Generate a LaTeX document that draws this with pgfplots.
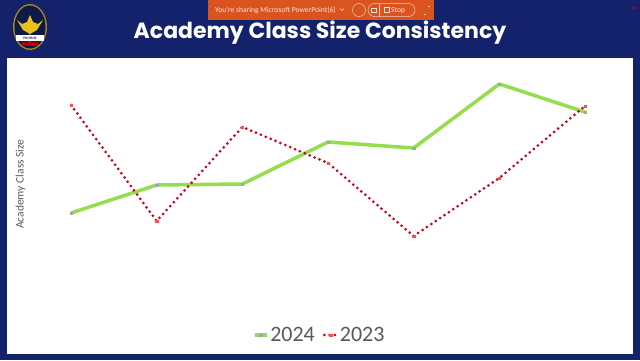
\documentclass[border=0pt]{standalone}
\usepackage{pgfplots}
\pgfplotsset{compat=1.18}
\usepackage{fontspec}
\setmainfont{Carlito}
\newfontfamily\poppins{Poppins}
\definecolor{navy}{HTML}{13226B}
\definecolor{orangebar}{HTML}{D9541E}
\definecolor{lgreen}{HTML}{95DD4C}
\definecolor{dred}{HTML}{C8001E}
\definecolor{txtgray}{HTML}{595959}
\definecolor{gold}{HTML}{E8C21A}
\begin{document}
\begin{tikzpicture}[x=1pt,y=1pt]
\fill[navy] (0,0) rectangle (640,360);
\fill[white] (7,6) rectangle (633,302);
% sharing bar
\fill[orangebar] (208,340) rectangle (434,360);
\node[anchor=west, text=white!85!orangebar, font=\fontsize{7.6}{8}\selectfont, inner sep=0] at (215,350) {You're sharing Microsoft PowerPoint(6)};
\draw[white!80!orangebar, line width=0.6] (340,351.5) -- (342,349.5) -- (344,351.5);
\draw[white!70!orangebar, line width=0.5] (359,350) circle (6.5);
\draw[white!70!orangebar, line width=0.5, rounded corners=6.5] (368,343.5) rectangle (415,356.5);
\draw[white!70!orangebar, line width=0.5] (379,343.5) -- (379,356.5);
\draw[white!85!orangebar, line width=0.5] (371,348) rectangle (376,352);
\draw[white!85!orangebar, line width=0.5] (384,347.5) rectangle (389,352.5);
\node[anchor=west, text=white!85!orangebar, font=\fontsize{7.6}{8}\selectfont, inner sep=0] at (391,349.5) {Stop};
\draw[white!70!orangebar, line width=0.5] (424,346) -- (426,346) (428,354) -- (430,354);
\fill[red!80!black] (634,352) circle (1.5);
% logo
\fill[gold!70!black] (30,333) ellipse (17 and 23);
\fill[navy!70!black] (30,333) ellipse (15.5 and 21.5);
\fill[gold] (17,340) -- (23,330) -- (30,326) -- (37,330) -- (43,340) -- (38,336) -- (33,338) -- (30,345) -- (27,338) -- (22,336) -- cycle;
\fill[gold] (30,322) circle (3.5);
\fill[white] (16,325) rectangle (44,319);
\node[font=\fontsize{3.5}{4}\selectfont\bfseries, text=navy, inner sep=0] at (30,322) {PHOENIX};
\fill[red!70!black] (22,318) rectangle (38,314);
% title
\node[anchor=base, text=white, font=\poppins\bfseries\fontsize{22}{26}\selectfont] at (320,322) {Academy Class Size Consistency};
\begin{axis}[
  at={(28.17pt,60pt)}, anchor=south west,
  width=599.67pt, height=230pt, scale only axis,
  xmin=-0.5, xmax=6.5, ymin=0, ymax=230,
  axis lines=none, clip=false,
  legend columns=2,
  legend style={at={(0.486,-0.152)}, anchor=center, draw=none, fill=none,
    font=\fontsize{22}{24}\selectfont, text=txtgray,
    /tikz/every even column/.append style={column sep=6pt}},
  legend image code/.code={\draw[#1, mark repeat=2, mark phase=2] plot coordinates {(0pt,0pt) (6pt,0pt) (12pt,0pt)};},
]
\addplot[lgreen, line width=3.5pt, line join=round, mark=square*, mark size=1.3pt,
  mark options={fill=blue!25!gray!60, draw=blue!25!gray!60, line width=0.3pt}]
  coordinates {(0,87) (1,115) (2,116) (3,158) (4,152) (5,216) (6,188)};
\addlegendentry{2024}
\addplot[dred, line width=3pt, line cap=round, dash pattern=on 0pt off 5.3pt, mark=square*, mark size=1.3pt,
  mark options={fill=red!60!pink, draw=red!60!pink, line width=0.3pt, solid}]
  coordinates {(0,195) (1,79) (2,173) (3,137) (4,64) (5,122) (6,194)};
\addlegendentry{2023}
\node[rotate=90, text=txtgray, font=\fontsize{11.5}{13}\selectfont] at (rel axis cs:-0.0128,0.504) {Academy Class Size};
\end{axis}
\end{tikzpicture}
\end{document}
